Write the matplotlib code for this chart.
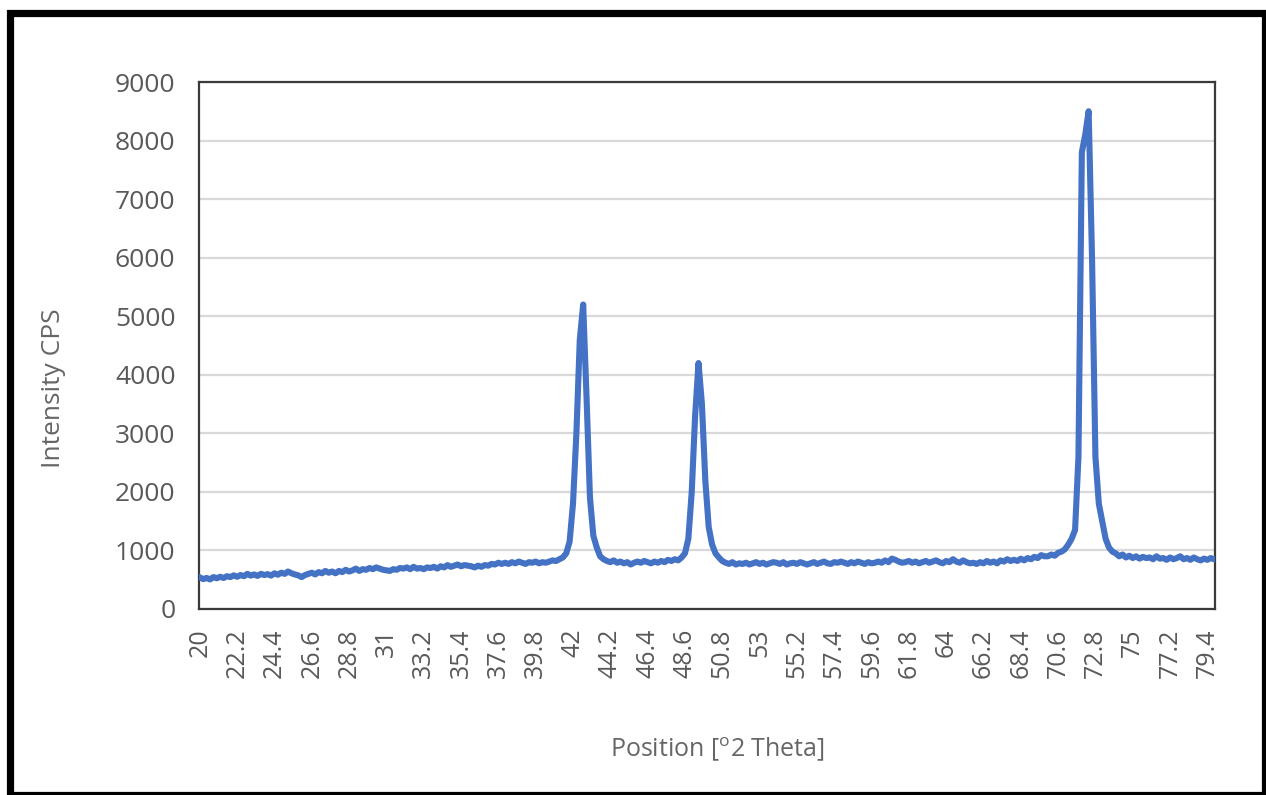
import matplotlib
import matplotlib.pyplot as plt
import numpy as np
from matplotlib.patches import Rectangle

matplotlib.use("Agg")

plt.rcParams["font.family"] = ["Open Sans", "DejaVu Sans"]

# 2-theta scan: 20.0 .. 79.8 deg, step 0.2 (one row = 2 deg)
theta_start = 20.0
theta_step = 0.2
intensity = [
    540, 510, 530, 505, 545, 525, 550, 530, 560, 545,      # 20
    575, 550, 580, 560, 600, 570, 590, 565, 600, 580,      # 22
    595, 570, 610, 585, 620, 600, 640, 610, 590, 575,      # 24
    545, 580, 600, 620, 590, 630, 610, 650, 620, 640,      # 26
    610, 650, 630, 670, 640, 660, 690, 650, 680, 670,      # 28
    700, 680, 710, 690, 670, 660, 650, 680, 670, 700,      # 30
    690, 710, 680, 720, 690, 700, 680, 710, 700, 720,      # 32
    690, 730, 710, 750, 720, 740, 760, 730, 750, 740,      # 34
    730, 710, 740, 720, 750, 740, 770, 760, 790, 770,      # 36
    790, 770, 800, 780, 810, 790, 770, 800, 790, 810,      # 38
    780, 800, 790, 810, 830, 820, 850, 880, 950, 1150,     # 40
    1800, 3000, 4600, 5200, 3600, 1900, 1250, 1050, 900, 850,  # 42
    820, 800, 830, 790, 810, 780, 800, 760, 790, 810,      # 44
    790, 820, 800, 780, 810, 790, 820, 800, 840, 820,      # 46
    850, 830, 880, 950, 1200, 2000, 3300, 4200, 3500, 2200,  # 48
    1400, 1100, 950, 880, 820, 790, 770, 800, 760, 780,    # 50
    770, 790, 760, 780, 800, 770, 790, 760, 780, 800,      # 52
    790, 770, 800, 760, 780, 790, 770, 800, 780, 760,      # 54
    780, 800, 770, 790, 810, 780, 770, 800, 790, 810,      # 56
    790, 770, 800, 780, 810, 790, 770, 800, 780, 790,      # 58
    810, 790, 830, 800, 860, 840, 810, 790, 800, 820,      # 60
    790, 810, 780, 800, 820, 790, 810, 830, 800, 780,      # 62
    820, 800, 850, 810, 790, 830, 800, 780, 790, 770,      # 64
    800, 780, 820, 790, 810, 780, 830, 810, 850, 820,      # 66
    840, 820, 860, 830, 870, 850, 890, 870, 920, 900,      # 68
    900, 930, 910, 960, 980, 1020, 1100, 1200, 1350, 2600,  # 70
    7800, 8100, 8500, 6000, 2600, 1800, 1500, 1200, 1050, 980,  # 72
    950, 900, 930, 880, 910, 870, 900, 860, 890, 870,      # 74
    880, 850, 900, 860, 870, 840, 880, 850, 870, 900,      # 76
    850, 870, 840, 880, 850, 830, 860, 840, 870, 850,      # 78
]
theta = theta_start + theta_step * np.arange(len(intensity))

tick_labels = ["20", "22.2", "24.4", "26.6", "28.8", "31", "33.2", "35.4",
               "37.6", "39.8", "42", "44.2", "46.4", "48.6", "50.8", "53",
               "55.2", "57.4", "59.6", "61.8", "64", "66.2", "68.4", "70.6",
               "72.8", "75", "77.2", "79.4"]
y_ticks = [0, 1000, 2000, 3000, 4000, 5000, 6000, 7000, 8000, 9000]

W, H = 1266, 795
fig = plt.figure(figsize=(W / 100, H / 100), dpi=100)
ax = fig.add_axes([199 / W, 1 - 609 / H, (1215 - 199) / W, (609 - 82) / H])

ax.plot(theta, intensity, color="#4472c4", linewidth=4.4,
        solid_joinstyle="round", zorder=3)

ax.set_xlim(19.95, 79.85)
ax.set_ylim(0, 9000)
ax.set_xticks([float(t) for t in tick_labels])
ax.set_xticklabels(tick_labels, rotation=90)
ax.set_yticks(y_ticks)
ax.set_yticklabels([str(v) for v in y_ticks])

ax.tick_params(axis="x", length=0, pad=14, labelsize=18, labelcolor="#595959")
ax.tick_params(axis="y", length=0, pad=17, labelsize=19, labelcolor="#595959")
ax.grid(axis="y", color="#d9d9d9", linewidth=1.6, zorder=0)
for s in ax.spines.values():
    s.set_color("#3a3a3a")
    s.set_linewidth(1.6)

fig.text(54 / W, 1 - 388 / H, "Intensity CPS", rotation=90, ha="center",
         va="center", fontsize=19, color="#666666")
fig.text(717 / W, 1 - 750 / H, "Position [$^{\\mathregular{o}}$2 Theta]",
         ha="center", va="center", fontsize=18, color="#666666")

# outer black frame
fig.patches.append(Rectangle((9.5 / W, 0.5 / H), (1265 - 9.5) / W,
                             (795 - 13.5) / H, transform=fig.transFigure,
                             fill=False, edgecolor="black", linewidth=5.2))

fig.savefig("out.png", dpi=100)
